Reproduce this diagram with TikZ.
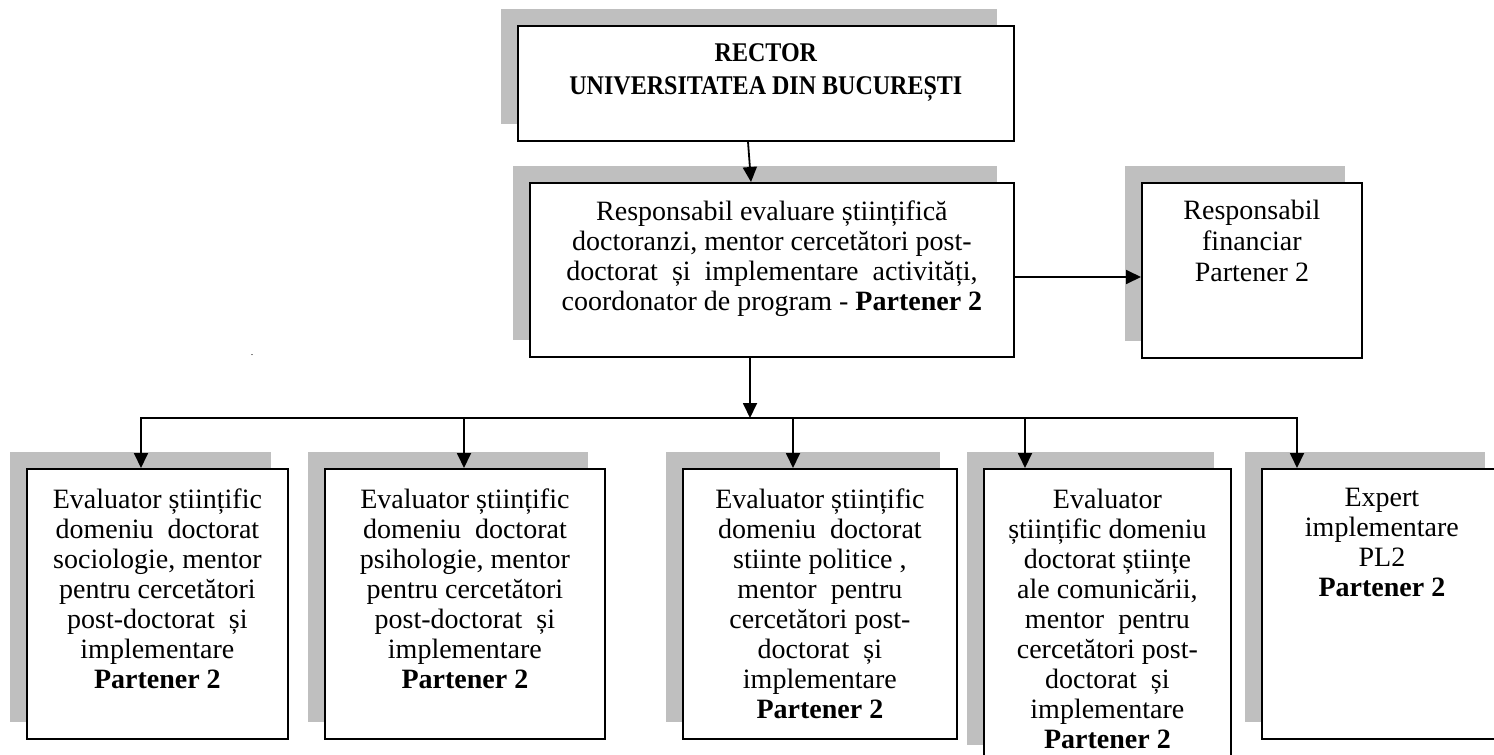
\documentclass[tikz,border=0pt]{standalone}
\usepackage{fontspec}
\setmainfont{Liberation Serif}
\usetikzlibrary{arrows.meta}
\definecolor{shadowc}{RGB}{191,191,191}
\tikzset{
  box/.style={draw=black, line width=1.8pt, fill=white, inner sep=0pt, anchor=north west},
  txt/.style={font=\fontsize{28}{30}\selectfont, align=center, inner sep=0pt, anchor=north},
  toptxt/.style={font=\fontsize{27}{33}\selectfont\bfseries, align=center, inner sep=0pt, anchor=north},
  arr/.style={line width=1.8pt, -{Triangle[length=15pt,width=14pt]}},
  busline/.style={line width=1.8pt, line cap=rect}
}
% name, x1, y1, x2, y2 (pixels, y downwards)
\newcommand\orgbox[5]{%
  \fill[shadowc] (#2-16,#3-16) rectangle (#4-16,#5-16);
  \node[box, minimum width={(#4-#2)*1pt}, minimum height={(#5-#3)*1pt}] (#1) at (#2,#3) {};
}
\begin{document}
\begin{tikzpicture}[x=1pt,y=-1pt]
\useasboundingbox (0,0) rectangle (1494,755);
\clip (0,0) rectangle (1494,755);

\orgbox{rector}{517}{25}{1013}{140}
\orgbox{mid}{529}{182}{1013}{356}
\orgbox{fin}{1141}{182}{1361}{357}
\orgbox{b1}{26}{468}{287}{738}
\orgbox{b2}{324}{468}{604}{738}
\orgbox{b3}{682}{468}{956}{738}
\orgbox{b4}{983}{468}{1230}{761}
\orgbox{b5}{1261}{468}{1501}{738}

\node[toptxt, yshift=-18.7pt] (trector) at (rector.north) {\scalebox{0.89}[1]{RECTOR}\\\scalebox{0.89}[1]{UNIVERSITATEA DIN BUCUREȘTI}};
\node[txt, yshift=-18.4pt] (tmid) at (mid.north) {Responsabil evaluare științifică\\doctoranzi, mentor cercetători post-\\doctorat~ și~ implementare~ activități,\\coordonator de program - \textbf{Partener 2}};
\node[txt, yshift=-17.4pt, font=\fontsize{28}{31}\selectfont] (tfin) at (fin.north) {Responsabil\\financiar\\Partener 2};
\node[txt, yshift=-21pt] (tb1) at (b1.north) {Evaluator științific\\domeniu~ doctorat\\sociologie, mentor\\pentru cercetători\\post-doctorat~ și\\implementare\\\textbf{Partener 2}};
\node[txt, yshift=-21pt] (tb2) at (b2.north) {Evaluator științific\\domeniu~ doctorat\\psihologie, mentor\\pentru cercetători\\post-doctorat~ și\\implementare\\\textbf{Partener 2}};
\node[txt, yshift=-21pt] (tb3) at (b3.north) {Evaluator științific\\domeniu~ doctorat\\stiinte politice ,\\mentor~ pentru\\cercetători post-\\doctorat~ și\\implementare\\\textbf{Partener 2}};
\node[txt, yshift=-21pt] (tb4) at (b4.north) {Evaluator\\științific domeniu\\doctorat științe\\ale comunicării,\\mentor~ pentru\\cercetători post-\\doctorat~ și\\implementare\\\textbf{Partener 2}};
\node[txt, yshift=-20pt] (tb5) at (b5.north) {Expert\\implementare\\PL2\\\textbf{Partener 2}};

\node[inner sep=0pt, font=\fontsize{10}{10}\selectfont] (dot) at (252,355) {.};

\coordinate (ra) at (748,0);
\coordinate (rb) at (751,0);
\coordinate (ry) at (0,277);
\coordinate (j0) at (750,418);
\coordinate (j1) at (141,418);
\coordinate (j2) at (464,418);
\coordinate (j3) at (793,418);
\coordinate (j4) at (1025,418);
\coordinate (j5) at (1297,418);

\draw[arr] (rector.south -| ra) -- (mid.north -| rb);
\draw[arr] (mid.east |- ry) -- (fin.west |- ry);
\draw[arr] (mid.south -| j0) -- (j0);
\draw[busline] (j1) -- (j5);
\draw[arr] (j1) -- (b1.north -| j1);
\draw[arr] (j2) -- (b2.north -| j2);
\draw[arr] (j3) -- (b3.north -| j3);
\draw[arr] (j4) -- (b4.north -| j4);
\draw[arr] (j5) -- (b5.north -| j5);
\end{tikzpicture}
\end{document}
